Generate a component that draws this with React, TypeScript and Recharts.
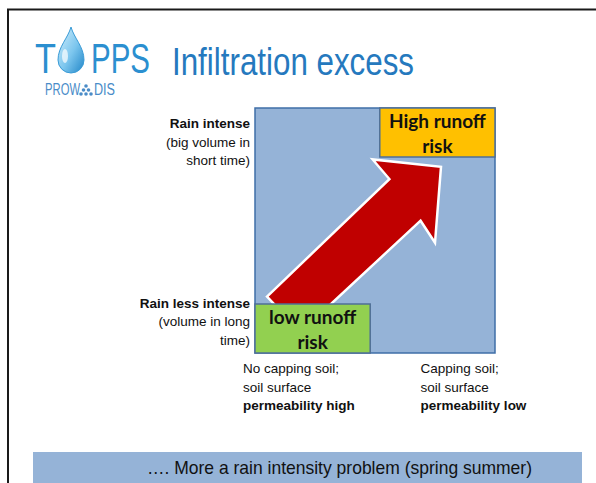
import React from 'react';
import { ComposedChart, XAxis, YAxis, Scatter, ReferenceArea } from 'recharts';

// soil permeability axis (horizontal), label positions in axis units
const xTicks = [-5, 69];
const xTickLabels = [
    ['No capping soil;', 'soil surface', 'permeability high'],
    ['Capping soil;', 'soil surface', 'permeability low'],
];

// rain intensity axis (vertical)
const yTicks = [86, 12.7];
const yTickLabels = [
    ['Rain intense', '(big volume in', 'short time)'],
    ['Rain less intense', '(volume in long', 'time)'],
];

const fieldX = [0, 100];
const fieldY = [0, 100];
const highRiskX = [52, 100];
const highRiskY = [80, 100];
const highRiskLabel = ['High runoff', 'risk'];
const lowRiskX = [0, 48];
const lowRiskY = [0, 20];
const lowRiskLabel = ['low runoff', 'risk'];

// arrow outline, going from low risk towards high risk
const arrowX = [5, 56, 49, 77.5, 75, 69, 19];
const arrowY = [23, 71, 79, 76, 45, 54, 8.5];

const arrowData = arrowX.map((x, i) => ({ x, y: arrowY[i] }));

const LABEL_FONT = "'Liberation Sans', Arial, sans-serif";
const NARROW_FONT = "'Liberation Sans Narrow', 'Liberation Sans', Arial, sans-serif";

const YTick = (props: any) => {
    const { x, y, index } = props;
    const lines = yTickLabels[index] || [];
    return (
        <g>
            {lines.map((line, i) => (
                <text
                    key={i}
                    x={x}
                    y={y + (i - 1) * 18.5 + 4.5}
                    textAnchor="end"
                    fontFamily={LABEL_FONT}
                    fontSize={13.5}
                    fontWeight={i === 0 ? 700 : 400}
                    fill="#111"
                >
                    {line}
                </text>
            ))}
        </g>
    );
};

const XTick = (props: any) => {
    const { x, y, index } = props;
    const lines = xTickLabels[index] || [];
    return (
        <g>
            {lines.map((line, i) => (
                <text
                    key={i}
                    x={x}
                    y={y + 20 + i * 18.5}
                    textAnchor="start"
                    fontFamily={LABEL_FONT}
                    fontSize={13.5}
                    fontWeight={i === 2 ? 700 : 400}
                    fill="#111"
                >
                    {line}
                </text>
            ))}
        </g>
    );
};

const boxLabel = (lines: string[]) => (props: any) => {
    const { x, y, width } = props.viewBox;
    return (
        <g>
            {lines.map((line, i) => (
                <text
                    key={i}
                    x={x + width / 2}
                    y={y + 19.5 + i * 25.5}
                    textAnchor="middle"
                    fontFamily="Lato, 'Open Sans', sans-serif"
                    fontSize={19}
                    fontWeight={700}
                    fill="#111"
                >
                    {line}
                </text>
            ))}
        </g>
    );
};

const ArrowShape = (props: any) => {
    const pts = (props.points || []).map((p: any) => `${p.x},${p.y}`).join(' ');
    return <polygon points={pts} fill="#C00000" stroke="#ffffff" strokeWidth={2.5} strokeLinejoin="miter" />;
};

const SlideDecor = () => (
    <svg width={596} height={483} style={{ position: 'absolute', left: 0, top: 0 }}>
        <defs>
            <linearGradient id="drop" x1="0" y1="0" x2="1" y2="1">
                <stop offset="0%" stopColor="#d6f0fc" />
                <stop offset="55%" stopColor="#7cc6ee" />
                <stop offset="100%" stopColor="#2186c8" />
            </linearGradient>
        </defs>
        {/* slide frame */}
        <line x1={7} y1={9.5} x2={596} y2={9.5} stroke="#1a1a1a" strokeWidth={2} />
        <line x1={8} y1={9} x2={8} y2={483} stroke="#1a1a1a" strokeWidth={2} />

        {/* logo */}
        <text x={35} y={73} fontFamily={NARROW_FONT} fontSize={43} fontWeight={400} fill="#2b8fd0" textLength={21} lengthAdjust="spacingAndGlyphs">T</text>
        <path d="M71,27 C74,38 84,47 84,60 A13,13 0 1,1 58,60 C58,47 68,38 71,27 Z" fill="url(#drop)" stroke="#3a9bd6" strokeWidth={1} />
        <ellipse cx={65} cy={56} rx={3} ry={7} fill="#ffffff" opacity={0.7} />
        <text x={91} y={73} fontFamily={NARROW_FONT} fontSize={43} fontWeight={400} fill="#2b8fd0" textLength={59} lengthAdjust="spacingAndGlyphs">PPS</text>
        <text x={45} y={95} fontFamily={NARROW_FONT} fontSize={16} fill="#4a8cc8" textLength={35} lengthAdjust="spacingAndGlyphs">PROW</text>
        <circle cx={86} cy={86} r={1.8} fill="#4a8cc8" />
        <circle cx={83.5} cy={90} r={1.8} fill="#4a8cc8" />
        <circle cx={88.5} cy={90} r={1.8} fill="#4a8cc8" />
        <circle cx={81} cy={94} r={1.8} fill="#4a8cc8" />
        <circle cx={86} cy={94} r={1.8} fill="#4a8cc8" />
        <circle cx={91} cy={94} r={1.8} fill="#4a8cc8" />
        <text x={94} y={95} fontFamily={NARROW_FONT} fontSize={16} fill="#4a8cc8" textLength={21} lengthAdjust="spacingAndGlyphs">DIS</text>

        {/* title */}
        <text x={172} y={75} fontFamily={NARROW_FONT} fontSize={38} fill="#2579be" textLength={242} lengthAdjust="spacingAndGlyphs">
            Infiltration excess
        </text>

        {/* bottom banner */}
        <rect x={33} y={452} width={549} height={31} fill="#95b3d7" />
        <text x={147} y={474} fontFamily={NARROW_FONT} fontSize={19} fill="#111" textLength={385} lengthAdjust="spacingAndGlyphs">
            …. More a rain intensity problem (spring summer)
        </text>
    </svg>
);

export default function App() {
    return (
        <div style={{ position: 'absolute', left: 0, top: 0, width: 596, height: 483, background: '#fff' }}>
            <SlideDecor />
            <div style={{ position: 'absolute', left: 0, top: 0 }}>
                <ComposedChart width={596} height={483} margin={{ top: 108, right: 101, left: 5, bottom: 70 }}>
                    <XAxis
                        type="number"
                        dataKey="x"
                        domain={[0, 100]}
                        ticks={xTicks}
                        interval={0}
                        height={60}
                        axisLine={false}
                        tickLine={false}
                        tickSize={0}
                        tickMargin={0}
                        tick={<XTick />}
                        allowDataOverflow
                    />
                    <YAxis
                        type="number"
                        dataKey="y"
                        domain={[0, 100]}
                        ticks={yTicks}
                        interval={0}
                        width={250}
                        axisLine={false}
                        tickLine={false}
                        tickSize={0}
                        tickMargin={5}
                        tick={<YTick />}
                        allowDataOverflow
                    />
                    <ReferenceArea
                        x1={fieldX[0]}
                        x2={fieldX[1]}
                        y1={fieldY[0]}
                        y2={fieldY[1]}
                        fill="#95b3d7"
                        fillOpacity={1}
                        stroke="#3f6fa8"
                        strokeWidth={1.5}
                        ifOverflow="visible"
                        zIndex={0}
                    />
                    <Scatter
                        data={arrowData}
                        isAnimationActive={false}
                        shape={() => <g />}
                        line={ArrowShape}
                        lineType="joint"
                        fill="#C00000"
                        zIndex={50}
                    />
                    <ReferenceArea
                        x1={highRiskX[0]}
                        x2={highRiskX[1]}
                        y1={highRiskY[0]}
                        y2={highRiskY[1]}
                        fill="#ffc000"
                        fillOpacity={1}
                        stroke="#4f6f96"
                        strokeWidth={1.5}
                        ifOverflow="visible"
                        label={boxLabel(highRiskLabel)}
                        zIndex={900}
                    />
                    <ReferenceArea
                        x1={lowRiskX[0]}
                        x2={lowRiskX[1]}
                        y1={lowRiskY[0]}
                        y2={lowRiskY[1]}
                        fill="#92d050"
                        fillOpacity={1}
                        stroke="#4f6f96"
                        strokeWidth={1.5}
                        ifOverflow="visible"
                        label={boxLabel(lowRiskLabel)}
                        zIndex={900}
                    />
                </ComposedChart>
            </div>
        </div>
    );
}
